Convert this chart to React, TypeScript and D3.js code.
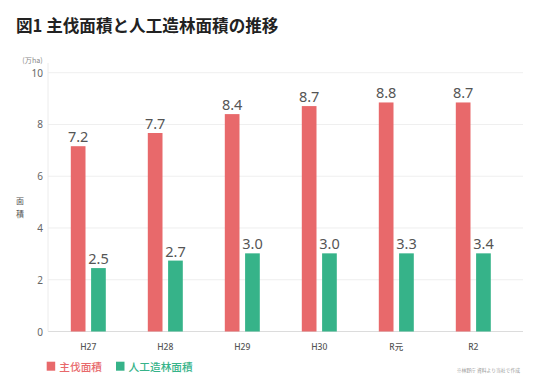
import React, { useEffect, useRef } from "react";
import * as d3 from "d3";

// Fiscal years (Japanese era notation)
const CATEGORIES = ["H27", "H28", "H29", "H30", "R元", "R2"];

// Bar heights as drawn in the source (万ha)
const HARVEST_BAR = [7.16, 7.67, 8.4, 8.71, 8.85, 8.85];
const PLANT_BAR = [2.45, 2.74, 3.02, 3.02, 3.02, 3.02];

// Value labels printed above each bar
const HARVEST_LABEL = ["7.2", "7.7", "8.4", "8.7", "8.8", "8.7"];
const PLANT_LABEL = ["2.5", "2.7", "3.0", "3.0", "3.3", "3.4"];

const Y_TICKS = [0, 2, 4, 6, 8, 10];

const SERIES = [
  { key: "harvest", name: "主伐面積", color: "#E8696B" },
  { key: "plant", name: "人工造林面積", color: "#36B389" },
];

const FONT = "'Noto Sans CJK JP', 'Noto Sans', sans-serif";
const NUM_FONT = "'Noto Sans', 'Noto Sans CJK JP', sans-serif";

export default function App() {
  const svgRef = useRef<SVGSVGElement | null>(null);

  useEffect(() => {
    const width = 536;
    const height = 388;
    const svg = d3.select(svgRef.current);
    svg.selectAll("*").remove();
    svg.attr("width", width).attr("height", height).attr("viewBox", `0 0 ${width} ${height}`);

    svg.append("rect").attr("width", width).attr("height", height).attr("fill", "#fff");

    const plotLeft = 48;
    const plotRight = 523;

    const y = d3.scaleLinear().domain([0, 10]).range([331.5, 72.7]);
    const x = d3.scaleBand().domain(CATEGORIES).range([49.8, 511.8]).padding(0);

    const barW = 14.7;
    const gap = 5.6;

    // Title
    svg.append("text")
      .attr("x", 16).attr("y", 32)
      .attr("fill", "#222")
      .style("font-family", FONT)
      .style("font-size", "16.6px").style("font-weight", 700)
      .text("図1 主伐面積と人工造林面積の推移");

    // Grid lines
    svg.selectAll(".grid")
      .data(Y_TICKS)
      .join("line")
      .attr("x1", plotLeft).attr("x2", plotRight)
      .attr("y1", d => y(d)).attr("y2", d => y(d))
      .attr("stroke", d => (d === 0 ? "#dcdcdc" : "#efefef"))
      .attr("stroke-width", 1);

    // Left axis line
    svg.append("line")
      .attr("x1", plotLeft).attr("x2", plotLeft)
      .attr("y1", 63).attr("y2", y(0))
      .attr("stroke", "#ececec").attr("stroke-width", 1);

    // Y tick labels
    svg.selectAll(".ytick")
      .data(Y_TICKS)
      .join("text")
      .attr("x", 43).attr("y", d => y(d))
      .attr("text-anchor", "end").attr("dominant-baseline", "central")
      .attr("fill", "#666")
      .style("font-family", NUM_FONT).style("font-size", "10px")
      .text(d => d);

    // Unit
    svg.append("text")
      .attr("x", 32.5).attr("y", 59.5)
      .attr("text-anchor", "middle").attr("dominant-baseline", "central")
      .attr("fill", "#888")
      .style("font-family", FONT).style("font-size", "7.2px")
      .text("(万ha)");

    // Y axis title (vertical)
    ["面", "積"].forEach((ch, i) => {
      svg.append("text")
        .attr("x", 20).attr("y", 200.7 + i * 12.5)
        .attr("text-anchor", "middle").attr("dominant-baseline", "central")
        .attr("fill", "#555")
        .style("font-family", FONT).style("font-size", "8px")
        .text(ch);
    });

    const center = (c: string) => (x(c) as number) + x.bandwidth() / 2;

    const rows = CATEGORIES.map((c, i) => ({
      c,
      harvest: HARVEST_BAR[i],
      plant: PLANT_BAR[i],
      harvestLabel: HARVEST_LABEL[i],
      plantLabel: PLANT_LABEL[i],
    }));

    // Bars
    const g = svg.append("g");
    g.selectAll(".bar-h")
      .data(rows)
      .join("rect")
      .attr("x", d => center(d.c) - gap / 2 - barW)
      .attr("width", barW)
      .attr("y", d => y(d.harvest))
      .attr("height", d => y(0) - y(d.harvest))
      .attr("fill", SERIES[0].color);

    g.selectAll(".bar-p")
      .data(rows)
      .join("rect")
      .attr("x", d => center(d.c) + gap / 2)
      .attr("width", barW)
      .attr("y", d => y(d.plant))
      .attr("height", d => y(0) - y(d.plant))
      .attr("fill", SERIES[1].color);

    // Value labels
    g.selectAll(".lab-h")
      .data(rows)
      .join("text")
      .attr("x", d => center(d.c) - gap / 2 - barW / 2)
      .attr("y", d => y(d.harvest) - 4)
      .attr("text-anchor", "middle")
      .attr("fill", "#555")
      .style("font-family", NUM_FONT).style("font-size", "14.5px")
      .text(d => d.harvestLabel);

    g.selectAll(".lab-p")
      .data(rows)
      .join("text")
      .attr("x", d => center(d.c) + gap / 2 + barW / 2)
      .attr("y", d => y(d.plant) - 4)
      .attr("text-anchor", "middle")
      .attr("fill", "#555")
      .style("font-family", NUM_FONT).style("font-size", "14.5px")
      .text(d => d.plantLabel);

    // X labels
    svg.selectAll(".xtick")
      .data(CATEGORIES)
      .join("text")
      .attr("x", d => center(d))
      .attr("y", 346)
      .attr("text-anchor", "middle").attr("dominant-baseline", "central")
      .attr("fill", "#555")
      .style("font-family", NUM_FONT).style("font-size", "8.5px").style("font-weight", 500)
      .text(d => d);

    // Legend
    const legendX = [46.7, 116];
    SERIES.forEach((s, i) => {
      svg.append("rect")
        .attr("x", legendX[i]).attr("y", 361.7)
        .attr("width", 8.5).attr("height", 9)
        .attr("fill", s.color);
      svg.append("text")
        .attr("x", legendX[i] + 12.6).attr("y", 366.2)
        .attr("dominant-baseline", "central")
        .attr("fill", s.color)
        .style("font-family", FONT).style("font-size", "10.7px").style("font-weight", 500)
        .text(s.name);
    });

    // Source note
    svg.append("text")
      .attr("x", 520).attr("y", 369.5)
      .attr("text-anchor", "end").attr("dominant-baseline", "central")
      .attr("fill", "#999")
      .style("font-family", FONT).style("font-size", "4.8px")
      .text("※林野庁 資料より当社で作成");
  }, []);

  return (
    <div style={{ position: "absolute", left: 0, top: 0 }}>
      <svg ref={svgRef} style={{ display: "block" }} />
    </div>
  );
}
